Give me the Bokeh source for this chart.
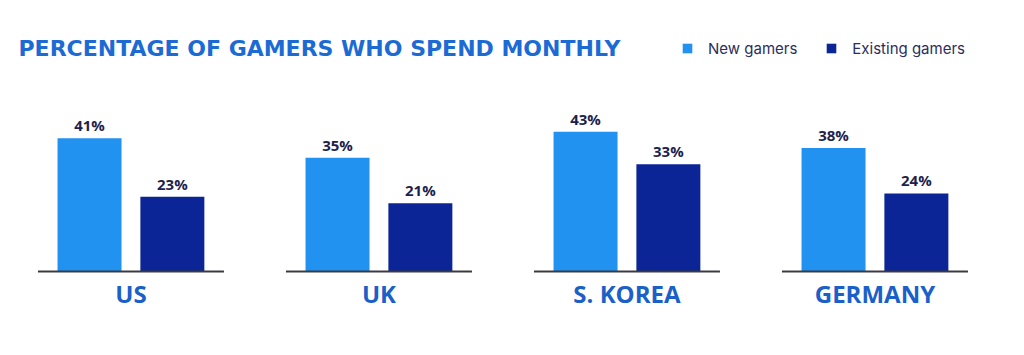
from bokeh.plotting import figure
from bokeh.models import ColumnDataSource, LabelSet, Label, Legend, LegendItem, Range1d
from bokeh.core.properties import value
from bokeh.embed import file_html
from bokeh.resources import INLINE

# ---- data ----
countries = ["US", "UK", "S. KOREA", "GERMANY"]
new_gamers = [41, 35, 43, 38]
existing_gamers = [23, 21, 33, 24]
series_names = ["New gamers", "Existing gamers"]
title_text = "PERCENTAGE OF GAMERS WHO SPEND MONTHLY"

# ---- style ----
LIGHT = "#2192f0"
DARK = "#0b2596"
TITLE_C = "#1c6bd4"
COUNTRY_C = "#1b5fc9"
VALUE_C = "#1f1f4c"
LEGEND_C = "#2b2d5e"
OFF = 0.167
BAR_W = 0.258
HALF = 0.375

idx = list(range(len(countries)))
src = ColumnDataSource(dict(
    x=idx,
    xn=[i - OFF for i in idx],
    xe=[i + OFF for i in idx],
    x0=[i - HALF for i in idx],
    x1=[i + HALF for i in idx],
    zero=[0] * len(idx),
    country=countries,
    new=new_gamers,
    existing=existing_gamers,
    new_lbl=[f"{v}%" for v in new_gamers],
    ex_lbl=[f"{v}%" for v in existing_gamers],
))

p = figure(width=1024, height=355,
           x_range=Range1d(-0.526, 3.603), y_range=Range1d(-25.85, 83.38),
           output_backend="svg", toolbar_location=None, min_border=0)
p.axis.visible = False
p.grid.visible = False
p.outline_line_color = None
p.background_fill_color = "white"

r1 = p.vbar(x="xn", top="new", width=BAR_W, source=src, fill_color=LIGHT, line_color=None)
r2 = p.vbar(x="xe", top="existing", width=BAR_W, source=src, fill_color=DARK, line_color=None)
p.segment(x0="x0", y0="zero", x1="x1", y1="zero", source=src, line_color="#3a3a44", line_width=2)

lab_kw = dict(source=src, text_align="center", text_baseline="bottom", y_offset=3,
              text_font=value("Open Sans"), text_font_style="bold",
              text_font_size="15px", text_color=VALUE_C)
p.add_layout(LabelSet(x="xn", y="new", text="new_lbl", **lab_kw))
p.add_layout(LabelSet(x="xe", y="existing", text="ex_lbl", **lab_kw))

p.add_layout(LabelSet(x="x", y="zero", text="country", source=src, y_offset=-22,
                      text_align="center", text_baseline="middle", text_font=value("Open Sans"),
                      text_font_style="bold", text_font_size="24px", text_color=COUNTRY_C))

p.add_layout(Label(x=18, y=307, x_units="screen", y_units="screen", text=title_text,
                   text_baseline="middle", text_font="DejaVu Sans", text_font_style="bold",
                   text_font_size="22px", text_color=TITLE_C))

legend = Legend(items=[LegendItem(label=series_names[0], renderers=[r1]),
                       LegendItem(label=series_names[1], renderers=[r2])],
                orientation="horizontal", location=(681, 297),
                glyph_width=12, glyph_height=12, label_standoff=15, spacing=28,
                padding=0, margin=0, border_line_color=None, background_fill_alpha=0,
                label_text_font="Inter", label_text_font_size="15px",
                label_text_color=LEGEND_C, label_height=20)
p.add_layout(legend)

open("out.html", "w").write(file_html(p, INLINE))
